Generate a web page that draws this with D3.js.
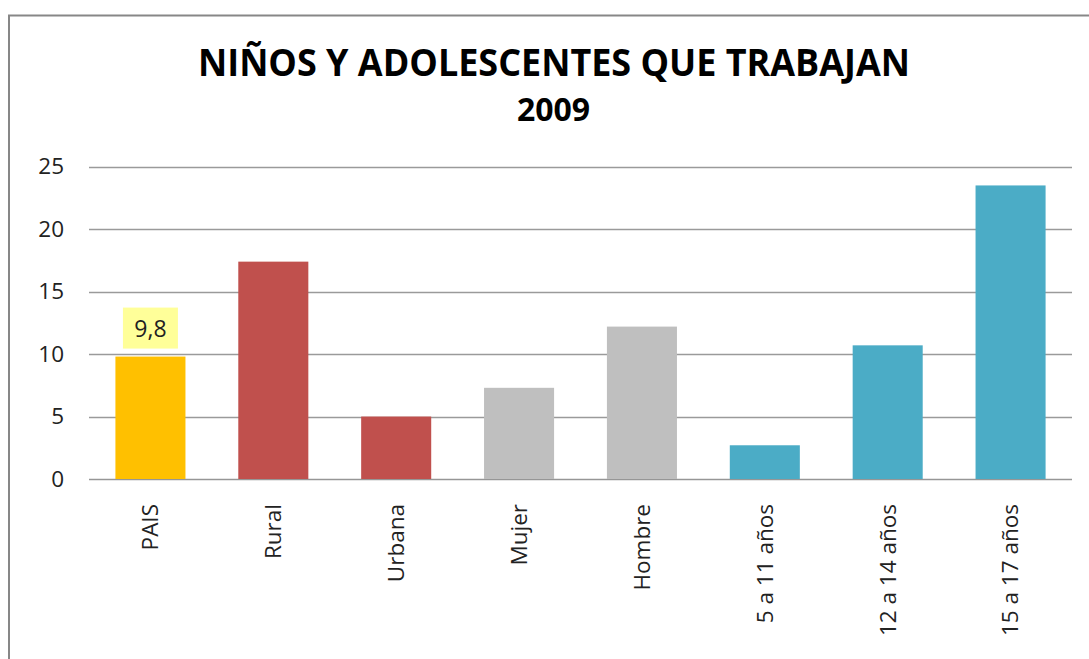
<!DOCTYPE html>
<html><head><meta charset="utf-8">
<script src="https://cdn.jsdelivr.net/npm/d3@7"></script>
<style>body{margin:0;background:#fff}svg{display:block}</style>
</head><body>
<svg id="c" width="1089" height="659"></svg>
<script>
const categories = ["PAIS","Rural","Urbana","Mujer","Hombre","5 a 11 años","12 a 14 años","15 a 17 años"];
const values = [9.8,17.4,5.0,7.3,12.2,2.7,10.7,23.5];
const colors = ["#FFC000","#C0504D","#C0504D","#BFBFBF","#BFBFBF","#4BACC6","#4BACC6","#4BACC6"];
const yTicks = [0,5,10,15,20,25];
const labelled = ["9,8", null, null, null, null, null, null, null];

const svg = d3.select("#c");
const font = "'Open Sans', sans-serif";
// frame
svg.append("rect").attr("x",9).attr("y",15.5).attr("width",1100).attr("height",700)
  .attr("fill","none").attr("stroke","#878787").attr("stroke-width",2);

const m = {l:89, r:1072, t:166.7, b:479};
const x = d3.scaleBand().domain(categories).range([m.l,m.r]).paddingInner(0.43).paddingOuter(0.215);
const y = d3.scaleLinear().domain([0,25]).range([m.b,m.t]);

// gridlines
svg.append("g").selectAll("line").data(yTicks).join("line")
  .attr("x1",m.l).attr("x2",m.r).attr("y1",d=>Math.round(y(d))+0.5).attr("y2",d=>Math.round(y(d))+0.5)
  .attr("stroke",d=>d===0?"#969696":"#9a9a9a").attr("stroke-width",1.3);

// y axis labels
const ya = d3.axisLeft(y).tickValues(yTicks).tickSize(0).tickPadding(0);
const yg = svg.append("g").attr("transform",`translate(64,0)`).call(ya);
yg.select(".domain").remove();
yg.selectAll("text").attr("font-family",font).attr("font-size",22.5).attr("fill","#222");

// bars
svg.append("g").selectAll("rect").data(categories).join("rect")
  .attr("x",d=>x(d)).attr("width",x.bandwidth())
  .attr("y",(d,i)=>y(values[i])).attr("height",(d,i)=>y(0)-y(values[i]))
  .attr("fill",(d,i)=>colors[i]);

// x axis labels
const xa = d3.axisBottom(x).tickSize(0).tickPadding(0);
const xg = svg.append("g").attr("transform",`translate(0,${m.b})`).call(xa);
xg.select(".domain").remove();
xg.selectAll("text").attr("font-family",font).attr("font-size",22.5).attr("fill","#222")
  .attr("transform","rotate(-90)").attr("text-anchor","end").attr("x",-25).attr("y",0).attr("dy","0.35em");

// data label
categories.forEach((c,i)=>{
  if(!labelled[i]) return;
  const cx = x(c)+x.bandwidth()/2;
  const top = y(values[i]);
  svg.append("rect").attr("x",cx-27.5).attr("y",top-49).attr("width",55).attr("height",41).attr("fill","#FFFF99");
  svg.append("text").attr("x",cx).attr("y",top-20).attr("text-anchor","middle")
    .attr("font-family",font).attr("font-size",23).attr("fill","#222").text(labelled[i]);
});

// titles
svg.append("text").attr("x",554).attr("y",75.5).attr("text-anchor","middle")
  .attr("font-family",font).attr("font-weight","bold").attr("font-size",38).attr("fill","#000")
  .attr("textLength",712).attr("lengthAdjust","spacingAndGlyphs")
  .text("NIÑOS Y ADOLESCENTES QUE TRABAJAN");
svg.append("text").attr("x",553.5).attr("y",121).attr("text-anchor","middle")
  .attr("font-family",font).attr("font-weight","bold").attr("font-size",32).attr("fill","#000")
  .text("2009");
</script>
</body></html>
